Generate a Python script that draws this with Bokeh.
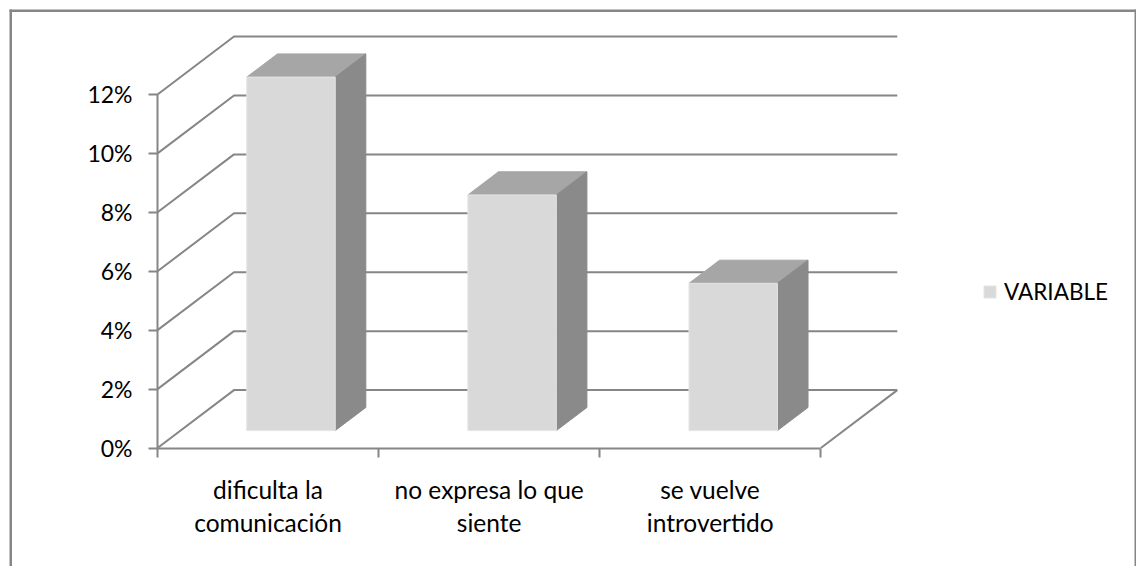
from bokeh.plotting import figure
from bokeh.embed import file_html
from bokeh.resources import INLINE
from bokeh.models import Range1d, FixedTicker, PrintfTickFormatter, BoxAnnotation

categories = ["dificulta la\ncomunicación", "no expresa lo que\nsiente", "se vuelve\nintrovertido"]
values = [12, 8, 5]
y_ticks = [0, 2, 4, 6, 8, 10, 12]
series_name = "VARIABLE"

FONT = "Lato"
GRID = "#868686"
FRONT = "#D9D9D9"
TOP = "#A6A6A6"
SIDE = "#8A8A8A"

# oblique projection of the chart depth, in data units (categories, percent)
DX = 0.346
DY = 1.966
NEAR = 0.30
FAR = 0.70
BAR_W = 0.40


def px(c, d):
    return c + d * DX


def py(v, d):
    return v + d * DY


W, H = 1136, 566
p = figure(
    width=W, height=H, output_backend="svg", toolbar_location=None,
    min_border=0, min_border_left=0, min_border_right=0, min_border_top=0, min_border_bottom=0,
    x_range=Range1d((0 - 157) / 221.1, (W - 157) / 221.1),
    y_range=Range1d((447.5 - H) / 29.46, 447.5 / 29.46),
    background_fill_color="white", border_fill_color="white",
)
p.outline_line_color = None
p.grid.visible = False

n = len(categories)
# walls
xs, ys = [], []
for t in y_ticks:
    xs.append([px(0, 0), px(0, 1), px(n, 1)])
    ys.append([py(t, 0), py(t, 1), py(t, 1)])
xs.append([px(n, 0), px(n, 1)])
ys.append([py(0, 0), py(0, 1)])
p.multi_line(xs, ys, line_color=GRID, line_width=2)

# bars
for i, v in enumerate(values):
    c0 = i + 0.5 - BAR_W / 2
    c1 = i + 0.5 + BAR_W / 2
    p.patch([px(c0, NEAR), px(c1, NEAR), px(c1, FAR), px(c0, FAR)],
            [py(v, NEAR), py(v, NEAR), py(v, FAR), py(v, FAR)],
            fill_color=TOP, line_color=TOP, line_width=1)
    p.patch([px(c1, NEAR), px(c1, FAR), px(c1, FAR), px(c1, NEAR)],
            [py(0, NEAR), py(0, FAR), py(v, FAR), py(v, NEAR)],
            fill_color=SIDE, line_color=SIDE, line_width=1)
    kw = {"legend_label": series_name} if i == 0 else {}
    p.quad(left=px(c0, NEAR), right=px(c1, NEAR), bottom=py(0, NEAR), top=py(v, NEAR),
           fill_color=FRONT, line_color="#E4E4E4", line_width=1, **kw)

# axes
ya = p.yaxis[0]
ya.fixed_location = 0
ya.bounds = (0, 12)
ya.ticker = FixedTicker(ticks=y_ticks)
ya.formatter = PrintfTickFormatter(format="%d%%")
ya.major_tick_in = 0
ya.major_tick_out = 9
ya.minor_tick_out = 0
ya.minor_tick_in = 0
ya.major_label_standoff = 16
ya.axis_line_color = GRID
ya.axis_line_width = 2
ya.major_tick_line_color = GRID
ya.major_tick_line_width = 2
ya.major_label_text_font = FONT
ya.major_label_text_font_size = "23px"
ya.major_label_text_color = "#000000"

xa = p.xaxis[0]
xa.fixed_location = 0
xa.bounds = (0, n)
centres = [i + 0.5 for i in range(n)]
xa.ticker = FixedTicker(ticks=centres, minor_ticks=list(range(n + 1)))
xa.major_label_overrides = dict(zip(centres, categories))
xa.major_tick_in = 0
xa.major_tick_out = 0
xa.minor_tick_in = 0
xa.minor_tick_out = 9
xa.major_label_standoff = 18
xa.axis_line_color = GRID
xa.axis_line_width = 2
xa.minor_tick_line_color = GRID
xa.minor_tick_line_width = 2
xa.major_label_text_font = FONT
xa.major_label_text_font_size = "24.5px"
xa.major_label_text_color = "#000000"
xa.major_label_text_line_height = 1.13

# chart-area border: left, top and right edges only (screen y counts from the bottom here)
for box in (dict(left=9, right=11.5, top=H - 9, bottom=0),
            dict(left=9, right=1136, top=H - 9, bottom=H - 11.5),
            dict(left=1134, right=1136, top=H - 9, bottom=0)):
    p.add_layout(BoxAnnotation(left_units="screen", right_units="screen",
                               top_units="screen", bottom_units="screen",
                               fill_color=GRID, fill_alpha=1, line_alpha=0, level="underlay", **box))

leg = p.legend[0]
leg.location = (982, 261)
leg.padding = 0
leg.margin = 0
leg.border_line_color = None
leg.background_fill_alpha = 0
leg.glyph_width = 15
leg.glyph_height = 15
leg.label_height = 15
leg.label_standoff = 7
leg.label_text_font = FONT
leg.label_text_font_size = "22.5px"
leg.label_text_color = "#000000"

open("out.html", "w").write(file_html(p, INLINE))
